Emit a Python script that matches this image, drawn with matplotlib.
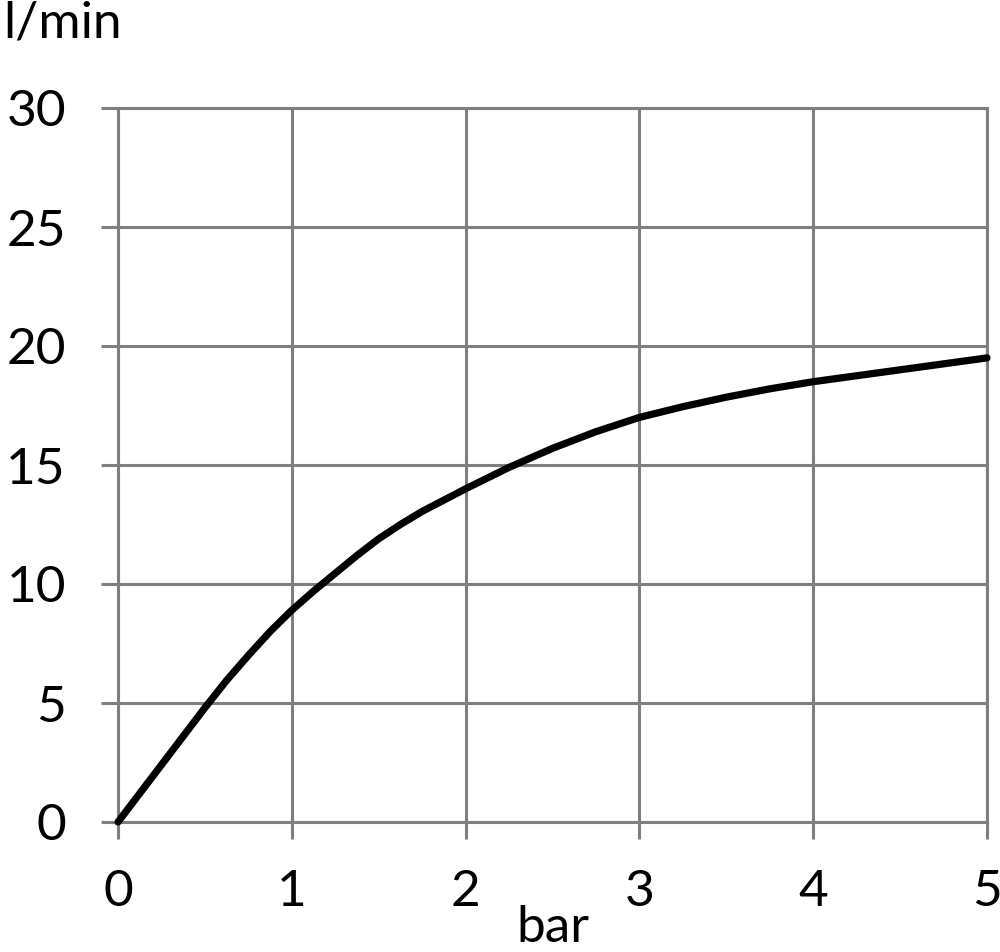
import matplotlib
matplotlib.use("Agg")
import matplotlib.pyplot as plt

plt.rcParams["font.family"] = ["Lato", "DejaVu Sans"]

# flow curve
pressure_bar = [0, 0.25, 0.5, 0.625, 0.75, 0.875, 1, 1.125, 1.25, 1.375, 1.5, 1.625,
                1.75, 2, 2.25, 2.5, 2.75, 3, 3.25, 3.5, 3.75, 4, 4.5, 5]
flow_lpm = [0, 2.4, 4.8, 5.95, 7.0, 8.0, 8.9, 9.7, 10.45, 11.2, 11.9, 12.5,
            13.05, 14.0, 14.9, 15.7, 16.4, 17.0, 17.45, 17.85, 18.2, 18.5, 19.0, 19.5]

x_ticks = [0, 1, 2, 3, 4, 5]
y_ticks = [0, 5, 10, 15, 20, 25, 30]

GRID = "#7f7f7f"

fig = plt.figure(figsize=(10, 9.52), dpi=100)
ax = fig.add_axes([0.118, 1 - 822 / 952, 0.869, 714 / 952])

ax.plot(pressure_bar, flow_lpm, color="black", linewidth=5.2,
        solid_capstyle="round", solid_joinstyle="round", zorder=3, clip_on=False)

ax.set_xlim(0, 5)
ax.set_ylim(0, 30)
ax.set_xticks(x_ticks)
ax.set_yticks(y_ticks)
ax.grid(True, color=GRID, linewidth=2.2)
ax.set_axisbelow(True)
for side in ax.spines.values():
    side.set_color(GRID)
    side.set_linewidth(2.2)

ax.tick_params(axis="both", direction="out", length=12.5, width=2.2, color=GRID,
               labelsize=37, labelcolor="black")
ax.tick_params(axis="y", pad=25)
ax.tick_params(axis="x", pad=21)

fig.text(0.003, 1 - 38 / 952, "l/min", fontsize=37, va="baseline", ha="left")
fig.text(0.553, 0.001, "bar", fontsize=37, va="bottom", ha="center")

fig.savefig("out.png", dpi=100, facecolor="white")
